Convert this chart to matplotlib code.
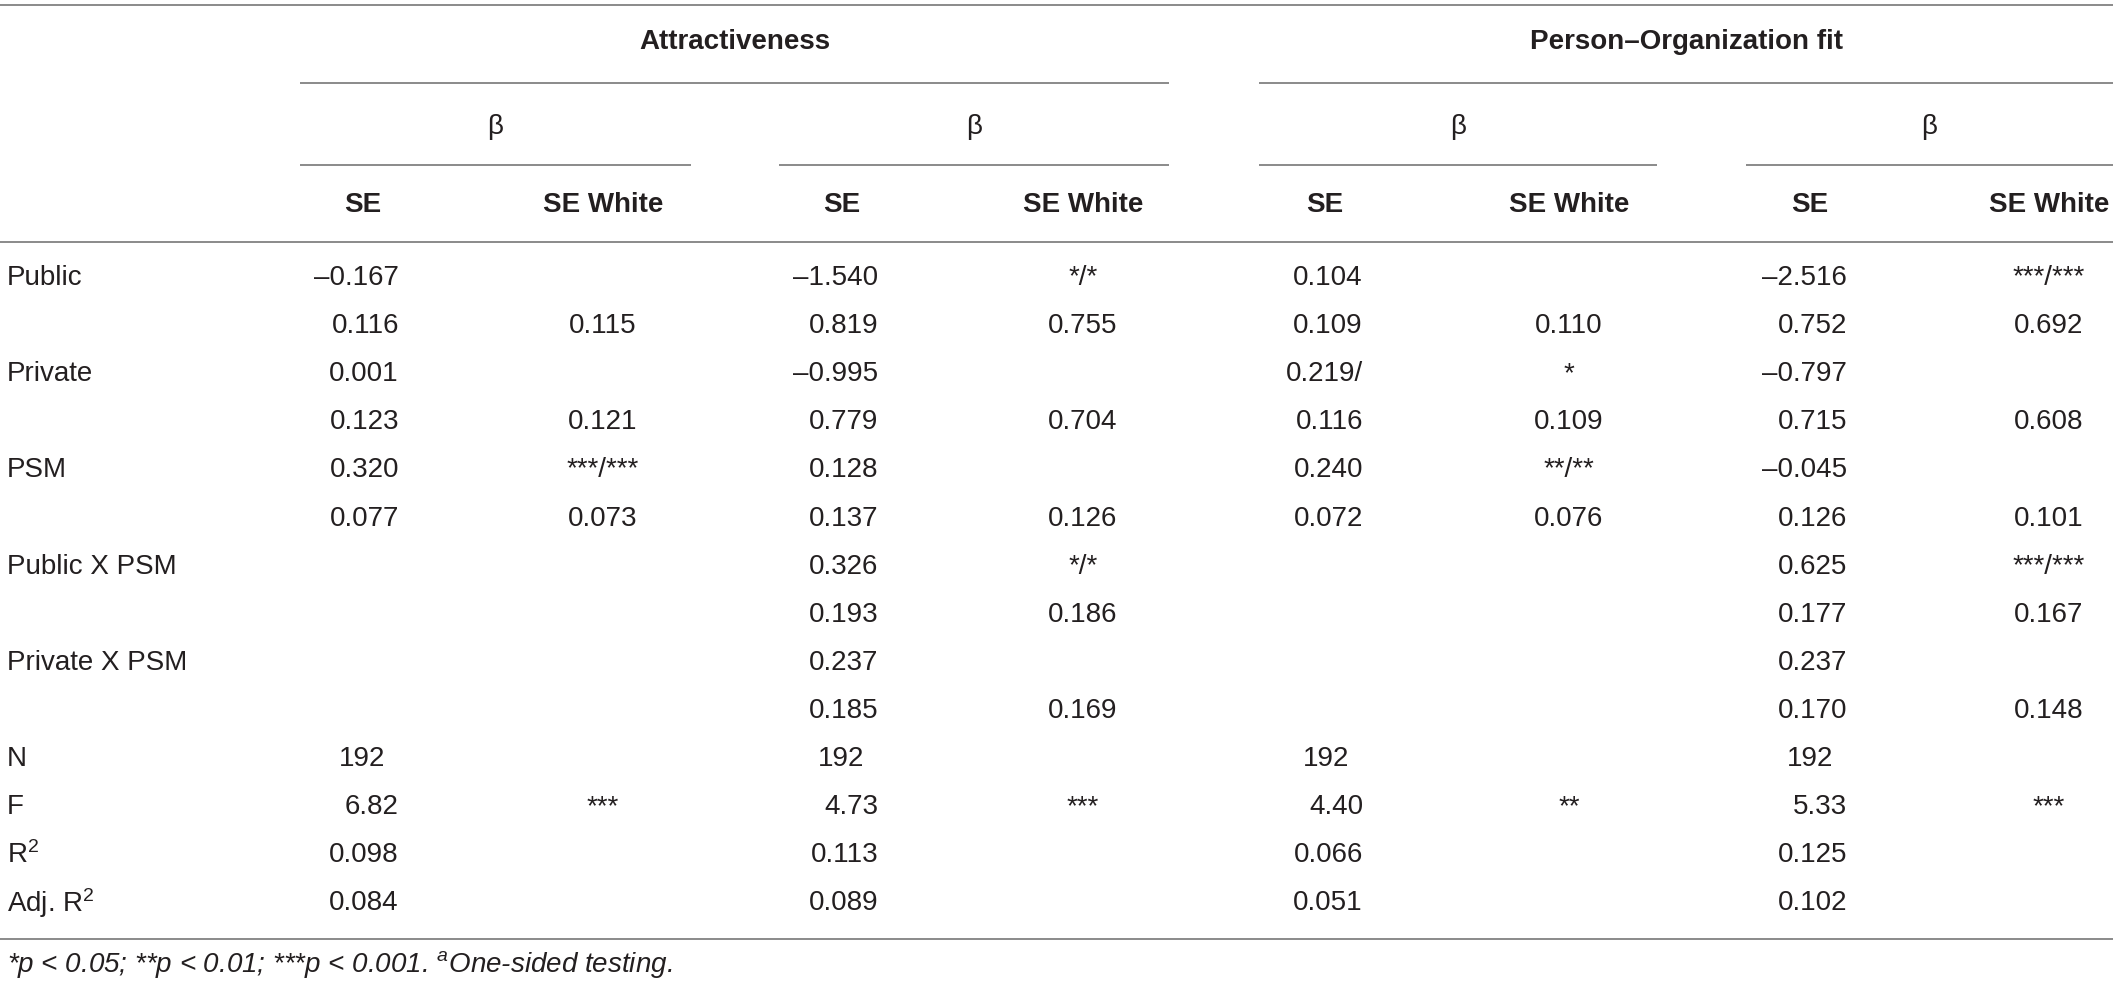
import matplotlib
matplotlib.use("Agg")
import matplotlib.pyplot as plt

plt.rcParams['font.family'] = ['Liberation Sans', 'DejaVu Sans']
plt.rcParams['mathtext.fontset'] = 'custom'
plt.rcParams['mathtext.rm'] = 'Liberation Sans'
plt.rcParams['mathtext.it'] = 'Liberation Sans:italic'
plt.rcParams['mathtext.bf'] = 'Liberation Sans:bold'

# table content
groups = ["Attractiveness", "Person\u2013Organization fit"]
sub_headers = ["\u03b2", "\u03b2", "\u03b2", "\u03b2"]
col_headers = ["SE", "SE White"] * 4

row_labels = ["Public", "", "Private", "", "PSM", "", "Public X PSM", "",
              "Private X PSM", "", "N", "F", "R$^{2}$", "Adj. R$^{2}$"]

att1_se = ["\u20130.167", "0.116", "0.001", "0.123", "0.320", "0.077", "", "", "", "",
           "192", "6.82", "0.098", "0.084"]
att1_white = ["", "0.115", "", "0.121", "***/***", "0.073", "", "", "", "",
              "", "***", "", ""]
att2_se = ["\u20131.540", "0.819", "\u20130.995", "0.779", "0.128", "0.137", "0.326", "0.193",
           "0.237", "0.185", "192", "4.73", "0.113", "0.089"]
att2_white = ["*/*", "0.755", "", "0.704", "", "0.126", "*/*", "0.186", "", "0.169",
              "", "***", "", ""]
po1_se = ["0.104", "0.109", "0.219/", "0.116", "0.240", "0.072", "", "", "", "",
          "192", "4.40", "0.066", "0.051"]
po1_white = ["", "0.110", "*", "0.109", "**/**", "0.076", "", "", "", "",
             "", "**", "", ""]
po2_se = ["\u20132.516", "0.752", "\u20130.797", "0.715", "\u20130.045", "0.126", "0.625", "0.177",
          "0.237", "0.170", "192", "5.33", "0.125", "0.102"]
po2_white = ["***/***", "0.692", "", "0.608", "", "0.101", "***/***", "0.167", "", "0.148",
             "", "***", "", ""]

columns = [att1_se, att1_white, att2_se, att2_white, po1_se, po1_white, po2_se, po2_white]

footnote = "*p < 0.05; **p < 0.01; ***p < 0.001. $^{a}$One-sided testing."

# layout (pixels)
W, H = 2118, 989
txt = '#231f20'
rule = '#8a8a8a'
fs = 20

fig = plt.figure(figsize=(W / 100, H / 100), dpi=100)
ax = fig.add_axes([0, 0, 1, 1])
ax.set_xlim(0, W)
ax.set_ylim(H, 0)
ax.axis('off')

head_x = [363, 603, 842, 1083, 1325, 1569, 1810, 2049]
right_x = [399, None, 878, None, 1363, None, 1847, None]
group_spans = [(300, 1169), (1259, 2113)]
sub_spans = [(300, 691), (779, 1169), (1259, 1657), (1746, 2113)]

def hline(y, x0, x1):
    ax.plot([x0, x1], [y, y], color=rule, lw=1.4, solid_capstyle='butt')

hline(5, 0, 2113)
for (x0, x1), g in zip(group_spans, groups):
    ax.text((x0 + x1) / 2, 42, g, ha='center', va='center', fontsize=fs,
            fontweight='bold', color=txt)
    hline(83, x0, x1)
for (x0, x1), s in zip(sub_spans, sub_headers):
    ax.text((x0 + x1) / 2, 127, s, ha='center', va='center', fontsize=fs, color=txt)
    hline(165, x0, x1)
for x, h in zip(head_x, col_headers):
    ax.text(x, 205, h, ha='center', va='center', fontsize=fs, fontweight='bold', color=txt)
hline(242, 0, 2113)

row_y0, row_dy = 278, 48.1
for i, lab in enumerate(row_labels):
    y = row_y0 + i * row_dy
    if lab:
        ax.text(7, y, lab, ha='left', va='center', fontsize=fs, color=txt)
    for j, col in enumerate(columns):
        v = col[i]
        if not v:
            continue
        if right_x[j] is not None:
            x = right_x[j] - (14 if lab == "N" else 0)
            ax.text(x, y, v, ha='right', va='center', fontsize=fs, color=txt)
        else:
            ax.text(head_x[j], y, v, ha='center', va='center', fontsize=fs, color=txt)

hline(939, 0, 2113)
ax.text(7, 964, footnote, ha='left', va='center', fontsize=fs,
        style='italic', color=txt)

fig.savefig("out.png", dpi=100, facecolor='white')
